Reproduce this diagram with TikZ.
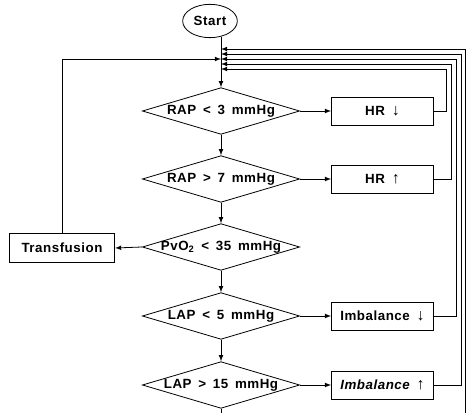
\documentclass[tikz,border=0pt]{standalone}
\usepackage{fontspec}
\setmainfont{Liberation Sans}[LetterSpace=4,WordSpace=1.6]
\usetikzlibrary{shapes.geometric, arrows, positioning}

\tikzset{
  decision/.style={diamond,draw,minimum width=118pt,minimum height=35pt,inner sep=0pt},
  action/.style={rectangle,draw,minimum width=76.5pt,minimum height=21pt,inner sep=0pt}
}
\newcommand{\dn}{{\large↓}}
\newcommand{\up}{{\large↑}}

\begin{document}
\begin{tikzpicture}[x=0.75pt,y=-0.75pt,>=latex,line width=0.6pt,font=\bfseries]
    \useasboundingbox (0,0) rectangle (468,413);

    % Start
    \node[ellipse,draw,minimum width=41pt,minimum height=25pt,inner sep=0pt] (start) at (210,21) {Start};

    % Abfragen
    \node[decision] (d1) at (221,111) {};
    \node at (d1.center) {RAP < 3 mmHg};
    \node[decision] (d2) at (221,179) {};
    \node at (d2.center) {RAP > 7 mmHg};
    \node[decision] (d3) at (221,247) {};
    \node at (d3.center) {PvO\textsubscript{2} < 35 mmHg};
    \node[decision] (d4) at (221,316) {};
    \node at (d4.center) {LAP < 5 mmHg};
    \node[decision] (d5) at (221,385) {};
    \node at (d5.center) {LAP > 15 mmHg};

    % Massnahmen
    \node[action] (hrdown) at (382.5,111) {HR \dn};
    \node[action] (hrup) at (382.5,179) {HR \up};
    \node[action] (imbdown) at (382.5,316) {Imbalance \dn};
    \node[action] (imbup) at (382.5,385) {{\itshape Imbalance} \up};
    \node[action,minimum width=79pt,minimum height=22pt] (transf) at (62,248) {Transfusion};

    % Punkte auf der Hauptlinie
    \coordinate (m1) at (221,49);
    \coordinate (m2) at (221,54);
    \coordinate (m3) at (221,59);
    \coordinate (m4) at (221,64);
    \coordinate (m5) at (221,69);
    \coordinate (out) at (221,413);
    \coordinate (back) at (465.5,413);

    % Hauptablauf
    \draw[->] (start.-55 -| d1.north) -- (d1.north);
    \draw[->] (d1.south) -- (d2.north);
    \draw[->] (d2.south) -- (d3.north);
    \draw[->] (d3.south) -- (d4.north);
    \draw[->] (d4.south) -- (d5.north);
    \draw (d5.south) -- (out);

    % Verzweigungen
    \draw[->] (d1.east) -- (hrdown.west);
    \draw[->] (d2.east) -- (hrup.west);
    \draw[->] (d4.east) -- (imbdown.west);
    \draw[->] (d5.east) -- (imbup.west);
    \draw[->] (d3.west) -- (transf.east);

    % Rueckfuehrungen
    \draw[->] (hrdown.east) -- ++(12,0) |- (m5);
    \draw[->] (hrup.east) -- ++(17,0) |- (m4);
    \draw[->] (imbdown.east) -- ++(22,0) |- (m3);
    \draw[->] (imbup.east) -- ++(27,0) |- (m2);
    \draw[->] (back) |- (m1);
    \draw[->] (transf.north) |- (m3);
\end{tikzpicture}
\end{document}
